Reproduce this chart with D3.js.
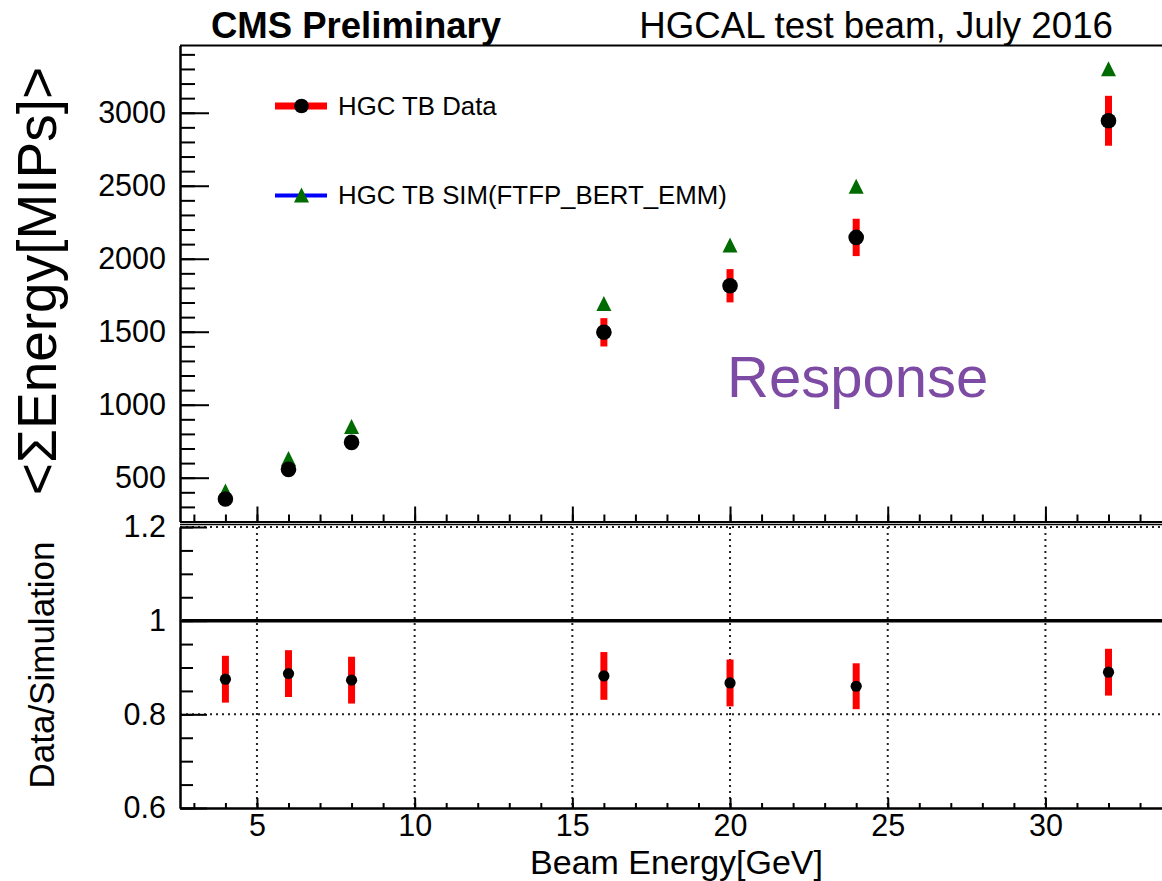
<!DOCTYPE html>
<html><head><meta charset="utf-8">
<script src="https://cdn.jsdelivr.net/npm/d3@7"></script>
<style>
body{margin:0;background:#fff}
svg{display:block}
text{font-family:"Liberation Sans",Arial,Helvetica,sans-serif;fill:#000}
</style>
</head><body>
<svg id="c" width="1162" height="881"></svg>
<script>
// ---- data ----
const beamEnergy = [4, 6, 8, 16, 20, 24, 32];
const dataResponse = [354, 557, 742, 1496, 1815, 2146, 2945];
const dataError = [22, 33, 45, 97, 114, 128, 171];
const simResponse = [405, 628, 847, 1690, 2090, 2493, 3298];
const ratioValues = [0.875, 0.887, 0.873, 0.882, 0.867, 0.860, 0.890];
const ratioError = [0.050, 0.050, 0.050, 0.051, 0.050, 0.049, 0.050];
const xTickValues = [5, 10, 15, 20, 25, 30];
const yTopTickValues = [500, 1000, 1500, 2000, 2500, 3000];
const yBotTickValues = [0.6, 0.8, 1, 1.2];
const legendLabels = ["HGC TB Data", "HGC TB SIM(FTFP_BERT_EMM)"];

const svg = d3.select("#c");
const green = "#006b00", red = "#ff0000";

// ---- scales ----
const x = d3.scaleLinear().domain([2.56, 33.95]).range([180, 1170]);
const yTop = d3.scaleLinear().domain([200, 3460]).range([521.5, 45.6]);
const yBot = d3.scaleLinear().domain([0.6, 1.2]).range([808, 527]);

const xMinor = d3.range(3, 34, 1);
const yTopMinor = d3.range(200, 3460, 100);
const yBotMinor = d3.range(0.6, 1.2001, 0.05).map(v => +v.toFixed(2));

function styleAxis(g, w) {
  g.selectAll("path.domain").attr("stroke", "#000").attr("stroke-width", w || 2);
  g.selectAll(".tick line").attr("stroke", "#000").attr("stroke-width", 2);
}

// ================= TOP PANEL =================
svg.append("line").attr("x1", 180).attr("x2", 1170).attr("y1", 45.6).attr("y2", 45.6)
  .attr("stroke", "#000").attr("stroke-width", 2);

const gTopMinor = svg.append("g").attr("transform", "translate(180,0)")
  .call(d3.axisLeft(yTop).tickValues(yTopMinor).tickSizeInner(-15).tickSizeOuter(0).tickFormat(""));
styleAxis(gTopMinor);
const gTopY = svg.append("g").attr("transform", "translate(180,0)")
  .call(d3.axisLeft(yTop).tickValues(yTopTickValues).tickSizeInner(-29).tickSizeOuter(0)
    .tickPadding(14).tickFormat(d3.format("d")));
styleAxis(gTopY);
gTopY.selectAll("text").attr("font-size", 30.5).attr("fill", "#000");

const gTopXMinor = svg.append("g").attr("transform", "translate(0,521.5)")
  .call(d3.axisBottom(x).tickValues(xMinor).tickSizeInner(-7).tickSizeOuter(0).tickFormat(""));
styleAxis(gTopXMinor);
const gTopX = svg.append("g").attr("transform", "translate(0,521.5)")
  .call(d3.axisBottom(x).tickValues(xTickValues).tickSizeInner(-15).tickSizeOuter(0).tickFormat(""));
styleAxis(gTopX);

// data error bars
svg.append("g").selectAll("line").data(beamEnergy).join("line")
  .attr("x1", d => x(d)).attr("x2", d => x(d))
  .attr("y1", (d, i) => yTop(dataResponse[i] - dataError[i]))
  .attr("y2", (d, i) => yTop(dataResponse[i] + dataError[i]))
  .attr("stroke", red).attr("stroke-width", 7);

const tri = (cx, cy) => `M${cx},${cy - 8}L${cx - 7.5},${cy + 7}L${cx + 7.5},${cy + 7}Z`;
svg.append("g").selectAll("path").data(beamEnergy).join("path")
  .attr("d", (d, i) => tri(x(d), yTop(simResponse[i])))
  .attr("fill", green);

svg.append("g").selectAll("circle").data(beamEnergy).join("circle")
  .attr("cx", d => x(d)).attr("cy", (d, i) => yTop(dataResponse[i]))
  .attr("r", 7.8).attr("fill", "#000");

// legend
const lg = svg.append("g");
lg.append("line").attr("x1", 275).attr("x2", 327).attr("y1", 106).attr("y2", 106)
  .attr("stroke", red).attr("stroke-width", 7);
lg.append("circle").attr("cx", 301.5).attr("cy", 106).attr("r", 7.3).attr("fill", "#000");
lg.append("text").attr("x", 338).attr("y", 115).attr("font-size", 25.8).text(legendLabels[0]);
lg.append("line").attr("x1", 275).attr("x2", 327).attr("y1", 195.5).attr("y2", 195.5)
  .attr("stroke", "#0000ff").attr("stroke-width", 4);
lg.append("path").attr("d", tri(301.5, 195.5)).attr("fill", green);
lg.append("text").attr("x", 338).attr("y", 204).attr("font-size", 25.8).text(legendLabels[1]);

// titles
svg.append("text").attr("x", 211).attr("y", 38).attr("font-size", 36.5).attr("font-weight", "bold")
  .text("CMS Preliminary");
svg.append("text").attr("x", 1113).attr("y", 38).attr("font-size", 36.7).attr("text-anchor", "end")
  .text("HGCAL test beam, July 2016");
svg.append("text").attr("x", 727).attr("y", 397).attr("font-size", 58)
  .style("fill", "#7d4ba3").text("Response");

svg.append("text").attr("transform", "translate(56,281) rotate(-90)")
  .attr("text-anchor", "middle").attr("font-size", 55).text("<\u03A3Energy[MIPs]>");

// ================= BOTTOM PANEL =================
const grid = svg.append("g").attr("stroke", "#222").attr("stroke-width", 2).attr("stroke-dasharray", "2,4");
grid.selectAll("line.v").data(xTickValues).join("line").attr("class", "v")
  .attr("x1", d => x(d)).attr("x2", d => x(d)).attr("y1", yBot(1.2)).attr("y2", yBot(0.6));
grid.selectAll("line.h").data([0.8, 1.2]).join("line").attr("class", "h")
  .attr("x1", 180).attr("x2", 1170).attr("y1", d => yBot(d)).attr("y2", d => yBot(d));

svg.append("line").attr("x1", 180).attr("x2", 1170).attr("y1", 524.5).attr("y2", 524.5)
  .attr("stroke", "#000").attr("stroke-width", 1.5);

const gBotMinor = svg.append("g").attr("transform", "translate(180,0)")
  .call(d3.axisLeft(yBot).tickValues(yBotMinor).tickSizeInner(-13).tickSizeOuter(0).tickFormat(""));
styleAxis(gBotMinor);
const gBotY = svg.append("g").attr("transform", "translate(180,0)")
  .call(d3.axisLeft(yBot).tickValues(yBotTickValues).tickSizeInner(-27).tickSizeOuter(0)
    .tickPadding(14).tickFormat(d => d === 1 ? "1" : d3.format(".1f")(d)));
styleAxis(gBotY);
gBotY.selectAll("text").attr("font-size", 30.5).attr("fill", "#000");

const gBotXMinor = svg.append("g").attr("transform", "translate(0,808)")
  .call(d3.axisBottom(x).tickValues(xMinor).tickSizeInner(-5).tickSizeOuter(0).tickFormat(""));
styleAxis(gBotXMinor);
const gBotX = svg.append("g").attr("transform", "translate(0,808)")
  .call(d3.axisBottom(x).tickValues(xTickValues).tickSizeInner(-10).tickSizeOuter(0).tickPadding(6));
styleAxis(gBotX);
gBotX.selectAll("text").attr("font-size", 30.5).attr("fill", "#000");

svg.append("line").attr("x1", 182).attr("x2", 1170).attr("y1", yBot(1)).attr("y2", yBot(1))
  .attr("stroke", "#000").attr("stroke-width", 3.5);

svg.append("g").selectAll("line").data(beamEnergy).join("line")
  .attr("x1", d => x(d)).attr("x2", d => x(d))
  .attr("y1", (d, i) => yBot(ratioValues[i] - ratioError[i]))
  .attr("y2", (d, i) => yBot(ratioValues[i] + ratioError[i]))
  .attr("stroke", red).attr("stroke-width", 7);
svg.append("g").selectAll("circle").data(beamEnergy).join("circle")
  .attr("cx", d => x(d)).attr("cy", (d, i) => yBot(ratioValues[i]))
  .attr("r", 5.6).attr("fill", "#000");

svg.append("text").attr("x", 823).attr("y", 874).attr("font-size", 34).attr("text-anchor", "end")
  .text("Beam Energy[GeV]");
svg.append("text").attr("transform", "translate(54,665) rotate(-90)")
  .attr("text-anchor", "middle").attr("font-size", 35).text("Data/Simulation");
</script>
</body></html>
